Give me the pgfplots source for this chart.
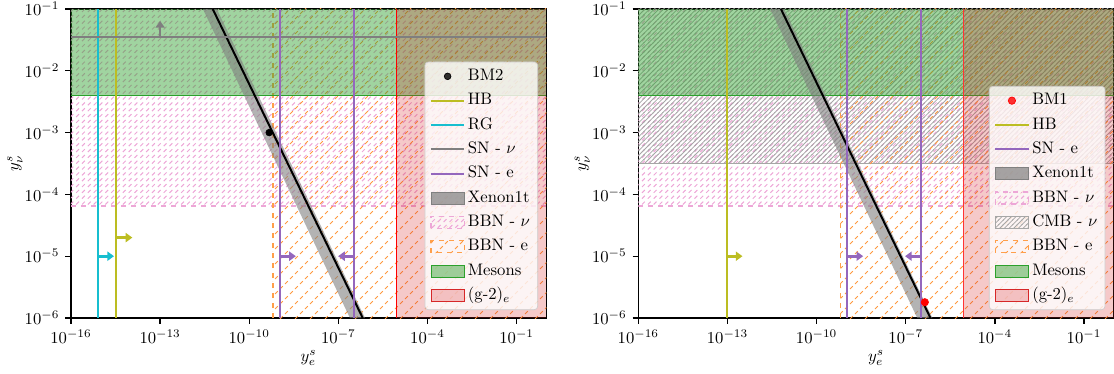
\documentclass[border=0pt]{standalone}
\usepackage{pgfplots}
\pgfplotsset{compat=1.18}
\usetikzlibrary{patterns,arrows.meta}

\definecolor{tabolive}{HTML}{BCBD22}
\definecolor{tabcyan}{HTML}{17BECF}
\definecolor{tabgray}{HTML}{7F7F7F}
\definecolor{tabpurple}{HTML}{9467BD}
\definecolor{tabpink}{HTML}{E377C2}
\definecolor{taborange}{HTML}{FF7F0E}
\definecolor{tabgreen}{HTML}{2CA02C}
\definecolor{tabred}{HTML}{D62728}

\pgfdeclarepatternformonly{pinkdash}{\pgfqpoint{-0.6pt}{-0.6pt}}{\pgfqpoint{4.1pt}{4.1pt}}{\pgfqpoint{3.5pt}{3.5pt}}{%
  \pgfsetlinewidth{0.6pt}%
  \pgfpathmoveto{\pgfqpoint{0.2pt}{0.2pt}}%
  \pgfpathlineto{\pgfqpoint{1.9pt}{1.9pt}}%
  \pgfusepath{stroke}}
\pgfdeclarepatternformonly{orangedash}{\pgfqpoint{-1pt}{-1pt}}{\pgfqpoint{10pt}{10pt}}{\pgfqpoint{9pt}{9pt}}{%
  \pgfsetlinewidth{0.6pt}%
  \pgfpathmoveto{\pgfqpoint{0pt}{0pt}}%
  \pgfpathlineto{\pgfqpoint{1.7pt}{1.7pt}}%
  \pgfpathmoveto{\pgfqpoint{3pt}{3pt}}%
  \pgfpathlineto{\pgfqpoint{4.7pt}{4.7pt}}%
  \pgfpathmoveto{\pgfqpoint{6pt}{6pt}}%
  \pgfpathlineto{\pgfqpoint{7.7pt}{7.7pt}}%
  \pgfusepath{stroke}}
\pgfdeclarepatternformonly{greylines}{\pgfqpoint{-0.5pt}{-0.5pt}}{\pgfqpoint{3.3pt}{3.3pt}}{\pgfqpoint{2.8pt}{2.8pt}}{%
  \pgfsetlinewidth{0.45pt}%
  \pgfpathmoveto{\pgfqpoint{-0.3pt}{-0.3pt}}%
  \pgfpathlineto{\pgfqpoint{3.1pt}{3.1pt}}%
  \pgfusepath{stroke}}

\pgfplotsset{
  every axis/.append style={
    scale only axis,
    width=285.2pt, height=185.4pt,
    xmin=1e-16, xmax=1, ymin=1e-6, ymax=0.1,
    xtick={1e-16,1e-13,1e-10,1e-7,1e-4,1e-1},
    ytick={1e-6,1e-5,1e-4,1e-3,1e-2,1e-1},
    xminorticks=false, yminorticks=false,
    tick align=outside, xtick pos=bottom, ytick pos=left,
    major tick length=3.5pt,
    axis line style={line width=0.8pt},
    tick style={black, line width=0.8pt},
    tick label style={font=\fontsize{10}{12}\selectfont},
    xlabel={$y^s_e$}, ylabel={$y^s_\nu$},
    label style={font=\fontsize{13}{15}\selectfont, inner sep=0pt},
    every axis x label/.style={at={(axis description cs:0.5,0)}, yshift=-24pt, anchor=center},
    every axis y label/.style={at={(axis description cs:0,0.5)}, xshift=-33.6pt, rotate=90, anchor=center},
    legend cell align=left,
    legend style={at={(1,0)}, anchor=south east, xshift=-5pt, yshift=4.8pt,
      fill=white, fill opacity=0.8, text opacity=1, draw=black!20, draw opacity=1,
      rounded corners=2pt, font=\fontsize{10}{12}\selectfont,
      row sep=1.4pt, inner xsep=3pt, inner ysep=2pt,
      nodes={inner sep=1.6pt, text height=7.5pt, text depth=2.5pt}},
  },
}

\begin{document}
\begin{tikzpicture}
% ================= LEFT =================
\begin{loglogaxis}[at={(42.6pt,33.6pt)}, anchor=south west]
% BBN - nu
\addplot[draw=none, pattern=pinkdash, pattern color=tabpink!65, forget plot]
  coordinates {(1e-16,6.5e-5) (1,6.5e-5) (1,0.1) (1e-16,0.1)} -- cycle;
\addplot[tabpink!65, dashed, line width=0.9pt, forget plot]
  coordinates {(1e-16,6.5e-5) (1,6.5e-5)};
% BBN - e
\addplot[draw=none, pattern=orangedash, pattern color=taborange!80, forget plot]
  coordinates {(6.3e-10,1e-6) (1,1e-6) (1,0.1) (6.3e-10,0.1)} -- cycle;
\addplot[taborange!75, dashed, line width=0.9pt, forget plot]
  coordinates {(6.3e-10,1e-6) (6.3e-10,0.1)};
% Mesons
\addplot[draw=none, fill=tabgreen, fill opacity=0.45, forget plot]
  coordinates {(1e-16,4e-3) (1,4e-3) (1,0.1) (1e-16,0.1)} -- cycle;
\addplot[tabgreen, line width=0.9pt, forget plot] coordinates {(1e-16,4e-3) (1,4e-3)};
% (g-2)_e
\addplot[draw=none, fill=tabred, fill opacity=0.25, forget plot]
  coordinates {(9e-6,1e-6) (1,1e-6) (1,0.1) (9e-6,0.1)} -- cycle;
\addplot[red, line width=1pt, forget plot] coordinates {(9e-6,1e-6) (9e-6,0.1)};
% Xenon1t band
\addplot[draw=none, fill=black!50, fill opacity=0.6, forget plot]
  coordinates {(2.75e-12,0.1) (8.1e-12,0.1) (7.9e-7,1e-6) (2.45e-7,1e-6)} -- cycle;
\addplot[black, line width=1.2pt, forget plot] coordinates {(5.9e-12,0.1) (6.6e-7,1e-6)};
% lines
\addplot[tabcyan, line width=1.2pt, forget plot] coordinates {(8e-16,1e-6) (8e-16,0.1)};
\addplot[tabolive, line width=1.2pt, forget plot] coordinates {(3.2e-15,1e-6) (3.2e-15,0.1)};
\addplot[tabgray, line width=1.2pt, forget plot] coordinates {(1e-16,3.5e-2) (1,3.5e-2)};
\addplot[tabpurple, line width=1.2pt, forget plot] coordinates {(1.07e-9,1e-6) (1.07e-9,0.1)};
\addplot[tabpurple, line width=1.2pt, forget plot] coordinates {(3.4e-7,1e-6) (3.4e-7,0.1)};
% arrows
\addplot[tabcyan, line width=1.6pt, -{Triangle[length=4pt,width=5.5pt]}, forget plot] coordinates {(8e-16,1e-5) (2.8e-15,1e-5)};
\addplot[tabolive, line width=1.6pt, -{Triangle[length=4pt,width=5.5pt]}, forget plot] coordinates {(3.2e-15,2e-5) (1.16e-14,2e-5)};
\addplot[tabgray, line width=1.6pt, -{Triangle[length=4pt,width=5.5pt]}, forget plot] coordinates {(1e-13,3.5e-2) (1e-13,6.4e-2)};
\addplot[tabpurple, line width=1.6pt, -{Triangle[length=4pt,width=5.5pt]}, forget plot] coordinates {(1.07e-9,1e-5) (3.7e-9,1e-5)};
\addplot[tabpurple, line width=1.6pt, -{Triangle[length=4pt,width=5.5pt]}, forget plot] coordinates {(3.4e-7,1e-5) (9.8e-8,1e-5)};
% BM2
\addplot[only marks, mark=*, mark size=2pt, black, forget plot] coordinates {(4.7e-10,1e-3)};
% legend
\addlegendimage{legend image code/.code={\fill[black] (10pt,0pt) circle (2pt);}}
\addlegendentry{BM2}
\addlegendimage{legend image code/.code={\draw[tabolive, line width=1.2pt] (0pt,0pt) -- (20pt,0pt);}}
\addlegendentry{HB}
\addlegendimage{legend image code/.code={\draw[tabcyan, line width=1.2pt] (0pt,0pt) -- (20pt,0pt);}}
\addlegendentry{RG}
\addlegendimage{legend image code/.code={\draw[tabgray, line width=1.2pt] (0pt,0pt) -- (20pt,0pt);}}
\addlegendentry{SN - $\nu$}
\addlegendimage{legend image code/.code={\draw[tabpurple, line width=1.2pt] (0pt,0pt) -- (20pt,0pt);}}
\addlegendentry{SN - e}
\addlegendimage{legend image code/.code={\fill[sharp corners, black!50, fill opacity=0.7] (0pt,-3.6pt) rectangle (20pt,3.6pt);}}
\addlegendentry{Xenon1t}
\addlegendimage{legend image code/.code={\draw[sharp corners, pattern=pinkdash, pattern color=tabpink!65, draw=tabpink!65, dashed, line width=0.8pt, fill opacity=1] (0pt,-3.6pt) rectangle (20pt,3.6pt);}}
\addlegendentry{BBN - $\nu$}
\addlegendimage{legend image code/.code={\draw[sharp corners, pattern=orangedash, pattern color=taborange!80, draw=taborange!75, dashed, line width=0.8pt, fill opacity=1] (0pt,-3.6pt) rectangle (20pt,3.6pt);}}
\addlegendentry{BBN - e}
\addlegendimage{legend image code/.code={\fill[sharp corners, tabgreen, fill opacity=0.45] (0pt,-3.6pt) rectangle (20pt,3.6pt);}}
\addlegendentry{Mesons}
\addlegendimage{legend image code/.code={\fill[sharp corners, tabred, fill opacity=0.25] (0pt,-3.6pt) rectangle (20pt,3.6pt);}}
\addlegendentry{(g-2)$_e$}
\end{loglogaxis}

% ================= RIGHT =================
\begin{loglogaxis}[at={(383pt,33.6pt)}, anchor=south west]
% BBN - nu
\addplot[draw=none, pattern=pinkdash, pattern color=tabpink!65, forget plot]
  coordinates {(1e-16,6.5e-5) (1,6.5e-5) (1,0.1) (1e-16,0.1)} -- cycle;
\addplot[tabpink!65, dashed, line width=0.9pt, forget plot]
  coordinates {(1e-16,6.5e-5) (1,6.5e-5)};
% CMB - nu
\addplot[draw=none, pattern=greylines, pattern color=black!35, forget plot]
  coordinates {(1e-16,3.2e-4) (1,3.2e-4) (1,0.1) (1e-16,0.1)} -- cycle;
\addplot[black!35, line width=0.7pt, forget plot]
  coordinates {(1e-16,3.2e-4) (1,3.2e-4)};
% BBN - e
\addplot[draw=none, pattern=orangedash, pattern color=taborange!80, forget plot]
  coordinates {(6.4e-10,1e-6) (1,1e-6) (1,0.1) (6.4e-10,0.1)} -- cycle;
\addplot[taborange!75, dashed, line width=0.9pt, forget plot]
  coordinates {(6.4e-10,1e-6) (6.4e-10,0.1)};
% Mesons
\addplot[draw=none, fill=tabgreen, fill opacity=0.45, forget plot]
  coordinates {(1e-16,4e-3) (1,4e-3) (1,0.1) (1e-16,0.1)} -- cycle;
\addplot[tabgreen, line width=0.9pt, forget plot] coordinates {(1e-16,4e-3) (1,4e-3)};
% (g-2)_e
\addplot[draw=none, fill=tabred, fill opacity=0.25, forget plot]
  coordinates {(8.8e-6,1e-6) (1,1e-6) (1,0.1) (8.8e-6,0.1)} -- cycle;
\addplot[red!80!white, line width=1pt, forget plot] coordinates {(8.8e-6,1e-6) (8.8e-6,0.1)};
% Xenon1t band
\addplot[draw=none, fill=black!50, fill opacity=0.6, forget plot]
  coordinates {(2.75e-12,0.1) (8.1e-12,0.1) (7.9e-7,1e-6) (2.45e-7,1e-6)} -- cycle;
\addplot[black, line width=1.2pt, forget plot] coordinates {(6.3e-12,0.1) (6.8e-7,1e-6)};
% lines
\addplot[tabolive, line width=1.2pt, forget plot] coordinates {(1e-13,1e-6) (1e-13,0.1)};
\addplot[tabpurple, line width=1.2pt, forget plot] coordinates {(1.07e-9,1e-6) (1.07e-9,0.1)};
\addplot[tabpurple, line width=1.2pt, forget plot] coordinates {(3.2e-7,1e-6) (3.2e-7,0.1)};
% arrows
\addplot[tabolive, line width=1.6pt, -{Triangle[length=4pt,width=5.5pt]}, forget plot] coordinates {(1e-13,1e-5) (3.2e-13,1e-5)};
\addplot[tabpurple, line width=1.6pt, -{Triangle[length=4pt,width=5.5pt]}, forget plot] coordinates {(1.07e-9,1e-5) (3.7e-9,1e-5)};
\addplot[tabpurple, line width=1.6pt, -{Triangle[length=4pt,width=5.5pt]}, forget plot] coordinates {(3.2e-7,1e-5) (9.5e-8,1e-5)};
% BM1
\addplot[only marks, mark=*, mark size=2.2pt, red, forget plot] coordinates {(4.4e-7,1.8e-6)};
% legend
\addlegendimage{legend image code/.code={\fill[red] (10pt,0pt) circle (2.2pt);}}
\addlegendentry{BM1}
\addlegendimage{legend image code/.code={\draw[tabolive, line width=1.2pt] (0pt,0pt) -- (20pt,0pt);}}
\addlegendentry{HB}
\addlegendimage{legend image code/.code={\draw[tabpurple, line width=1.2pt] (0pt,0pt) -- (20pt,0pt);}}
\addlegendentry{SN - e}
\addlegendimage{legend image code/.code={\fill[sharp corners, black!50, fill opacity=0.7] (0pt,-3.6pt) rectangle (20pt,3.6pt);}}
\addlegendentry{Xenon1t}
\addlegendimage{legend image code/.code={\draw[sharp corners, pattern=pinkdash, pattern color=tabpink!65, draw=tabpink!65, dashed, line width=0.8pt, fill opacity=1] (0pt,-3.6pt) rectangle (20pt,3.6pt);}}
\addlegendentry{BBN - $\nu$}
\addlegendimage{legend image code/.code={\draw[sharp corners, pattern=greylines, pattern color=black!35, draw=black!35, line width=0.7pt, fill opacity=1] (0pt,-3.6pt) rectangle (20pt,3.6pt);}}
\addlegendentry{CMB - $\nu$}
\addlegendimage{legend image code/.code={\draw[sharp corners, pattern=orangedash, pattern color=taborange!80, draw=taborange!75, dashed, line width=0.8pt, fill opacity=1] (0pt,-3.6pt) rectangle (20pt,3.6pt);}}
\addlegendentry{BBN - e}
\addlegendimage{legend image code/.code={\fill[sharp corners, tabgreen, fill opacity=0.45] (0pt,-3.6pt) rectangle (20pt,3.6pt);}}
\addlegendentry{Mesons}
\addlegendimage{legend image code/.code={\fill[sharp corners, tabred, fill opacity=0.25] (0pt,-3.6pt) rectangle (20pt,3.6pt);}}
\addlegendentry{(g-2)$_e$}
\end{loglogaxis}
\pgfresetboundingbox
\useasboundingbox (0,0) rectangle (668.4pt,224.4pt);
\end{tikzpicture}
\end{document}
